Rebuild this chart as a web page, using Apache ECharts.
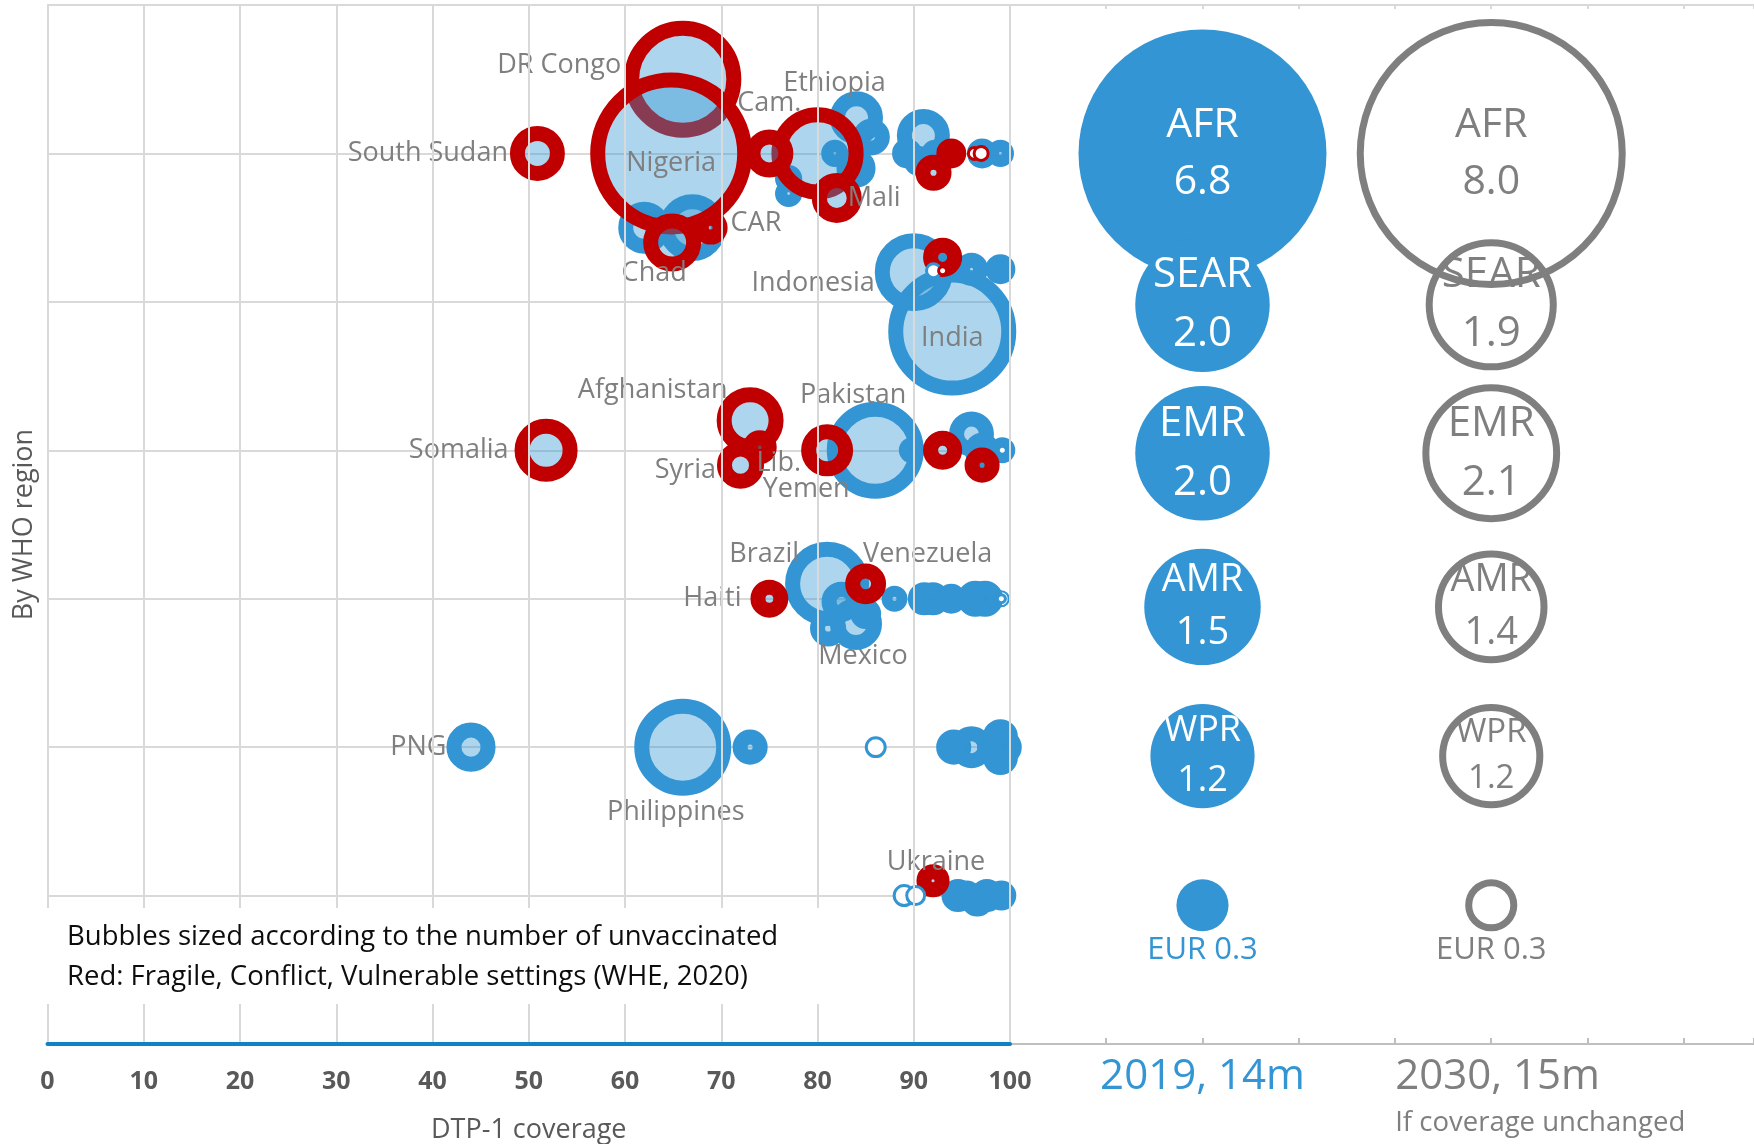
<!DOCTYPE html>
<html>
<head>
<meta charset="utf-8">
<title>Unvaccinated children by WHO region</title>
<script src="https://cdn.jsdelivr.net/npm/echarts@6/dist/echarts.min.js"></script>
<style>
  html, body { margin: 0; padding: 0; background: #fff; }
  #chart { width: 1754px; height: 1144px; }
</style>
</head>
<body>
<div id="chart"></div>
<script>
// ---- data ----
// countries in fragile / conflict / vulnerable settings (red)
const fcvNames = ['DR Congo', 'Nigeria', 'Ethiopia', 'Chad', 'South Sudan', 'Mali', 'Cam.', 'CAR', '', '',
  'Afghanistan', 'Somalia', 'Yemen', 'Syria', '', '', 'Lib.', '', 'Venezuela', 'Haiti', 'Ukraine'];
const fcvCoverage = [66.0, 64.8, 80.0, 64.9, 50.9, 82.0, 75.0, 68.9, 92.05, 93.9,
  73.0, 51.8, 81.0, 72.0, 93.0, 97.1, 74.0, 93.0, 85.0, 75.0, 92.0];
const fcvRowPos = [6.50, 6.0, 6.0, 5.40, 6.0, 5.70, 6.0, 5.50, 5.87, 6.0,
  4.20, 4.0, 4.0, 3.90, 4.0, 3.90, 4.02, 5.30, 3.10, 3.0, 1.10];
const fcvUnvax = [700, 1450, 400, 124, 107, 82, 73, 24, 30, 15,
  181, 155, 92, 69, 39, 27, 24, 39, 45, 35, 22];

// other countries (blue)
const otherNames = ['', '', '', '', '', '', '', '', '', '', '', '', '', '',
  'India', 'Indonesia', '', '',
  'Pakistan', '', '', '', '',
  'Brazil', 'Mexico', '', '', '', '', '', '', '', '', '', '',
  'Philippines', 'PNG', '', '', '', '', '', '', '',
  '', '', '', '', ''];
const otherCoverage = [62.0, 67.0, 84.05, 85.6, 84.0, 81.8, 77.0, 77.0, 91.0, 89.3, 90.5, 92.2, 97.1, 99.0,
  94.0, 90.0, 96.0, 99.0,
  86.0, 89.8, 96.0, 97.1, 99.2,
  81.0, 84.0, 81.1, 82.5, 85.0, 88.0, 91.1, 92.0, 93.9, 96.4, 97.4, 99.1,
  66.0, 44.0, 73.0, 94.15, 96.0, 98.4, 99.0, 99.0, 99.4,
  94.6, 95.5, 96.6, 97.6, 99.1];
const otherRowPos = [5.50, 5.50, 6.24, 6.11, 5.90, 6.0, 5.83, 5.73, 6.12, 6.0, 5.95, 6.0, 6.0, 6.0,
  4.80, 5.20, 5.22, 5.22,
  4.0, 4.0, 4.11, 4.0, 4.0,
  3.10, 2.83, 2.80, 2.98, 2.90, 3.0, 3.0, 3.0, 3.0, 3.0, 3.0, 3.0,
  2.0, 2.0, 2.0, 2.0, 2.0, 2.0, 2.07, 1.93, 2.0,
  1.0, 1.0, 0.97, 1.0, 1.0];
const otherUnvax = [92, 181, 97, 32, 39, 10, 10, 10, 97, 15, 15, 10, 15, 10,
  857, 266, 22, 15,
  451, 8, 60, 27, 8,
  320, 92, 30, 42, 17, 8, 22, 22, 15, 30, 30, 0.3,
  451, 78, 27, 27, 49, 27, 27, 27, 27,
  22, 15, 22, 22, 15];

// very small bubbles drawn as thin outlines
const hollowCoverage = [92.05, 96.3, 97.0, 93.0, 99.2, 86.05, 89.0, 90.2, 99.1];
const hollowRowPos = [5.21, 6.0, 6.0, 5.21, 4.0, 2.0, 1.0, 1.0, 3.0];
const hollowUnvax = [6.7, 4.3, 6.7, 1.1, 1.1, 15, 17, 13, 1.1];
const hollowFcv = [0, 1, 1, 1, 0, 0, 0, 0, 0];

// regional totals (millions unvaccinated)
const regions = ['AFR', 'SEAR', 'EMR', 'AMR', 'WPR', 'EUR'];
const regionRow = [6.0, 4.98, 3.98, 2.945, 1.94, 0.935];
const unvax2019 = [6.8, 2.0, 2.0, 1.5, 1.2, 0.3];
const unvax2030 = [8.0, 1.9, 2.1, 1.4, 1.2, 0.3];

const columnX = [120, 150];
const columnTitles = ['2019, 14m', '2030, 15m'];
const columnNote = 'If coverage unchanged';
const noteLines = ['Bubbles sized according to the number of unvaccinated',
  'Red: Fragile, Conflict, Vulnerable settings (WHE, 2020)'];

// ---- styles ----
const FONT = "'Open Sans', 'Noto Sans', sans-serif";
const BLUE = '#3395d3';
const RED = '#c00000';
const GREY = '#7f7f7f';
const FILL = 'rgba(51,149,211,0.4)';
const RING = 15;

function countrySize(v) { return 3.86 * Math.sqrt(v); }
function regionSize(v) { return 95.1 * Math.sqrt(v); }

const labelPlacement = {
  'South Sudan': { position: 'left', distance: 2 },
  'DR Congo': { position: 'left', distance: 3, offset: [0, -14] },
  'Nigeria': { position: 'inside', offset: [0, 10] },
  'Cam.': { position: 'top', distance: 13 },
  'Ethiopia': { position: 'top', distance: 11, offset: [17, 0] },
  'Mali': { position: 'right', distance: -14 },
  'CAR': { position: 'right', distance: 3, offset: [0, -4] },
  'Chad': { position: 'bottom', distance: -12, offset: [-18, 0] },
  'Indonesia': { position: 'left', distance: 0, offset: [0, 11] },
  'India': { position: 'inside', offset: [0, 7] },
  'Somalia': { position: 'left', distance: 6 },
  'Afghanistan': { position: 'left', distance: -11, offset: [0, -30] },
  'Syria': { position: 'left', distance: 1, offset: [0, 5] },
  'Lib.': { position: 'inside', offset: [19, 16] },
  'Yemen': { position: 'bottom', distance: 0, offset: [-21, 0] },
  'Pakistan': { position: 'top', distance: -7, offset: [-22, 0] },
  'Haiti': { position: 'left', distance: 9 },
  'Brazil': { position: 'left', distance: -14, offset: [0, -30] },
  'Venezuela': { position: 'top', distance: -4, offset: [62, 0] },
  'Mexico': { position: 'bottom', distance: -7, offset: [7, 0] },
  'PNG': { position: 'left', distance: 0 },
  'Philippines': { position: 'bottom', distance: 3, offset: [-7, 0] },
  'Ukraine': { position: 'top', distance: -12, offset: [3, 0] }
};

const font2019 = { AFR: 41, SEAR: 42, EMR: 42, AMR: 38, WPR: 36 };
const font2030 = { AFR: 41, SEAR: 42, EMR: 42, AMR: 38, WPR: 33 };

function countryData(names, cov, row, unvax) {
  return names.map(function (n, i) {
    const item = { name: n, value: [cov[i], row[i], unvax[i]] };
    if (labelPlacement[n]) item.label = Object.assign({ show: true }, labelPlacement[n]);
    return item;
  });
}

function regionData(column, values, fonts, colour) {
  return regions.map(function (r, i) {
    const item = { name: r, value: [column, regionRow[i], values[i]] };
    if (r === 'EUR') {
      item.label = { show: true, position: 'bottom', distance: 3, fontSize: 31, color: colour,
        formatter: r + ' ' + values[i].toFixed(1) };
    } else {
      item.label = { fontSize: fonts[r], lineHeight: Math.round(fonts[r] * 1.4) };
    }
    return item;
  });
}

const countryLabel = { show: false, formatter: '{b}', color: GREY, fontSize: 27, fontFamily: FONT };

const chart = echarts.init(document.getElementById('chart'));

const option = {
  animation: false,
  backgroundColor: '#fff',
  textStyle: { fontFamily: FONT },
  grid: [
    { left: 47.5, top: 5, width: 962.5, bottom: 100, containLabel: false, outerBoundsMode: 'none' },
    { left: 1010, top: 5, right: 0, bottom: 100, containLabel: false, outerBoundsMode: 'none' }
  ],
  xAxis: [
    {
      gridIndex: 0, type: 'value', min: 0, max: 100, interval: 10, z: 3,
      axisLine: { show: true, lineStyle: { color: '#0f82c4', width: 4 } },
      axisTick: { show: false },
      axisLabel: { fontSize: 25, fontWeight: 'bold', color: '#595959', margin: 25, fontFamily: FONT },
      splitLine: { show: true, lineStyle: { color: '#d9d9d9', width: 2 } },
      name: 'DTP-1 coverage', nameLocation: 'middle', nameGap: 73,
      nameTextStyle: { fontSize: 27, color: '#595959', fontFamily: FONT }
    },
    {
      gridIndex: 1, type: 'value', min: 100, max: 177.3, interval: 10,
      axisLine: { show: true, lineStyle: { color: '#bfbfbf', width: 2 } },
      axisTick: { show: true, inside: true, length: 6, lineStyle: { color: '#bfbfbf', width: 2 } },
      splitLine: { show: false },
      axisLabel: {
        margin: 10,
        formatter: function (v) {
          if (v === columnX[0]) return '{a|' + columnTitles[0] + '}';
          if (v === columnX[1]) return '{b|' + columnTitles[1] + '}\n{c|' + columnNote + '}';
          return '';
        },
        rich: {
          a: { fontSize: 42, color: BLUE, lineHeight: 46, fontFamily: FONT },
          b: { fontSize: 42, color: GREY, lineHeight: 46, fontFamily: FONT, align: 'left', padding: [0, 0, 0, 98] },
          c: { fontSize: 27.5, color: GREY, lineHeight: 46, fontFamily: FONT, align: 'left', padding: [0, 0, 0, 98] }
        }
      }
    },
    {
      gridIndex: 1, type: 'value', position: 'top', min: 100, max: 177.3, interval: 10,
      axisLine: { show: true, lineStyle: { color: '#d9d9d9', width: 2 } },
      axisTick: { show: true, inside: true, length: 4, lineStyle: { color: '#d9d9d9', width: 2 } },
      axisLabel: { show: false },
      splitLine: { show: false }
    }
  ],
  yAxis: [
    {
      gridIndex: 0, type: 'value', min: 0, max: 7, interval: 1,
      axisLine: { show: true, lineStyle: { color: '#d9d9d9', width: 2 } },
      axisTick: { show: false },
      axisLabel: { show: false },
      splitLine: { show: true, lineStyle: { color: '#d9d9d9', width: 2 } },
      name: 'By WHO region', nameLocation: 'middle', nameRotate: 90, nameGap: 10,
      nameTextStyle: { fontSize: 27, color: '#595959', fontFamily: FONT }
    },
    { gridIndex: 1, type: 'value', min: 0, max: 7, show: false }
  ],
  series: [
    {
      name: 'Other', type: 'scatter', xAxisIndex: 0, yAxisIndex: 0,
      symbolSize: function (v) { return countrySize(v[2]); },
      itemStyle: { color: FILL, borderColor: BLUE, borderWidth: RING, opacity: 1 },
      label: countryLabel,
      emphasis: { disabled: true },
      data: countryData(otherNames, otherCoverage, otherRowPos, otherUnvax)
    },
    {
      name: 'FCV', type: 'scatter', xAxisIndex: 0, yAxisIndex: 0,
      symbolSize: function (v) { return countrySize(v[2]); },
      itemStyle: { color: FILL, borderColor: RED, borderWidth: RING, opacity: 1 },
      label: countryLabel,
      emphasis: { disabled: true },
      data: countryData(fcvNames, fcvCoverage, fcvRowPos, fcvUnvax)
    },
    {
      name: 'Small', type: 'scatter', xAxisIndex: 0, yAxisIndex: 0,
      symbolSize: function (v) { return countrySize(v[2]) + 4; },
      itemStyle: { color: '#fff', borderWidth: 3, opacity: 1 },
      emphasis: { disabled: true },
      data: hollowCoverage.map(function (x, i) {
        return { value: [x, hollowRowPos[i], hollowUnvax[i]],
          itemStyle: { borderColor: hollowFcv[i] ? RED : BLUE } };
      })
    },
    {
      name: '2019', type: 'scatter', xAxisIndex: 1, yAxisIndex: 1,
      symbolSize: function (v) { return regionSize(v[2]); },
      itemStyle: { color: BLUE, opacity: 1 },
      label: {
        show: true, position: 'inside', color: '#fff', fontFamily: FONT,
        formatter: function (p) { return p.name + '\n' + p.value[2].toFixed(1); }
      },
      emphasis: { disabled: true },
      data: regionData(columnX[0], unvax2019, font2019, BLUE)
    },
    {
      name: '2030', type: 'scatter', xAxisIndex: 1, yAxisIndex: 1,
      symbolSize: function (v) { return regionSize(v[2]) - 7; },
      itemStyle: { color: 'rgba(255,255,255,0)', borderColor: GREY, borderWidth: 7, opacity: 1 },
      label: {
        show: true, position: 'inside', color: GREY, fontFamily: FONT,
        formatter: function (p) { return p.name + '\n' + p.value[2].toFixed(1); }
      },
      emphasis: { disabled: true },
      data: regionData(columnX[1], unvax2030, font2030, GREY)
    }
  ],
  graphic: [
    { type: 'rect', left: 44, top: 908, z: 10, shape: { width: 836, height: 96 }, style: { fill: '#fff' } },
    { type: 'text', left: 67, top: 917, z: 11,
      style: { text: noteLines.join('\n'), fontSize: 27.5, fontFamily: FONT, lineHeight: 40, fill: '#0d0d0d' } }
  ]
};

chart.setOption(option);
</script>
</body>
</html>
